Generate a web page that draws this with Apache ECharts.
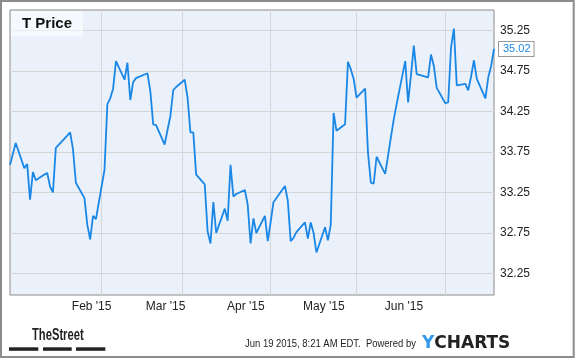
<!DOCTYPE html>
<html>
<head>
<meta charset="utf-8">
<script src="https://cdn.jsdelivr.net/npm/echarts@6/dist/echarts.min.js"></script>
<style>
html,body{margin:0;padding:0;background:#fff;}
#c{width:575px;height:358px;}
</style>
</head>
<body>
<div id="c"></div>
<script>
// ---- data ----
const dates = [
 '2014-12-31',
 '2015-01-02','2015-01-05','2015-01-06','2015-01-07','2015-01-08','2015-01-09',
 '2015-01-12','2015-01-13','2015-01-14','2015-01-15','2015-01-16',
 '2015-01-20','2015-01-21','2015-01-22','2015-01-23',
 '2015-01-26','2015-01-27','2015-01-28','2015-01-29','2015-01-30',
 '2015-02-02','2015-02-03','2015-02-04','2015-02-05','2015-02-06',
 '2015-02-09','2015-02-10','2015-02-11','2015-02-12','2015-02-13',
 '2015-02-17','2015-02-18','2015-02-19','2015-02-20',
 '2015-02-23','2015-02-24','2015-02-25','2015-02-26','2015-02-27',
 '2015-03-02','2015-03-03','2015-03-04','2015-03-05','2015-03-06',
 '2015-03-09','2015-03-10','2015-03-11','2015-03-12','2015-03-13',
 '2015-03-16','2015-03-17','2015-03-18','2015-03-19','2015-03-20',
 '2015-03-23','2015-03-24','2015-03-25','2015-03-26','2015-03-27',
 '2015-03-30','2015-03-31','2015-04-01','2015-04-02',
 '2015-04-06','2015-04-07','2015-04-08','2015-04-09','2015-04-10',
 '2015-04-13','2015-04-14','2015-04-15','2015-04-16','2015-04-17',
 '2015-04-20','2015-04-21','2015-04-22','2015-04-23','2015-04-24',
 '2015-04-27','2015-04-28','2015-04-29','2015-04-30','2015-05-01',
 '2015-05-04','2015-05-05','2015-05-06','2015-05-07','2015-05-08',
 '2015-05-11','2015-05-12','2015-05-13','2015-05-14','2015-05-15',
 '2015-05-18','2015-05-19','2015-05-20','2015-05-21','2015-05-22',
 '2015-05-26','2015-05-27','2015-05-28','2015-05-29',
 '2015-06-01','2015-06-02','2015-06-03','2015-06-04','2015-06-05',
 '2015-06-08','2015-06-09','2015-06-10','2015-06-11','2015-06-12',
 '2015-06-15','2015-06-16','2015-06-17','2015-06-18'
];
const prices = [
 33.59,
 33.86,33.55,33.60,33.16,33.50,33.40,
 33.47,33.49,33.32,33.25,33.80,
 33.95,33.99,33.78,33.37,
 33.18,32.85,32.67,32.96,32.92,
 33.53,34.34,34.41,34.53,34.87,
 34.64,34.85,34.39,34.61,34.66,
 34.72,34.50,34.09,34.08,
 33.84,34.02,34.19,34.51,34.55,
 34.64,34.42,33.99,33.99,33.47,
 33.35,32.77,32.62,33.13,32.75,
 33.05,32.90,33.59,33.20,33.23,
 33.28,33.10,32.62,32.93,32.75,
 32.96,32.65,32.88,33.13,
 33.33,33.15,32.65,32.69,32.76,
 32.88,32.68,32.88,32.75,32.51,
 32.82,32.66,32.85,34.23,34.01,
 34.09,34.86,34.77,34.65,34.42,
 34.53,33.74,33.37,33.36,33.69,
 33.48,33.70,33.93,34.15,34.34,
 34.87,34.36,34.69,35.06,34.71,
 34.67,34.95,34.81,34.54,
 34.35,34.36,35.04,35.27,34.57,
 34.59,34.51,34.68,34.88,34.65,
 34.41,34.67,34.81,35.02
];
const seriesName = 'T Price';
const xStart = '2014-12-31';
const xEnd = '2015-06-18';
const monthGridDates = ['2015-02-01','2015-03-01','2015-04-01','2015-05-01','2015-06-01'];
const monthLabelDates = ['2015-01-28T12','2015-02-23T08','2015-03-23T08','2015-04-19T14','2015-05-17T13'];
const monthLabels = ["Feb '15","Mar '15","Apr '15","May '15","Jun '15"];
const yTicks = [32.25,32.75,33.25,33.75,34.25,34.75,35.25];
const yMin = 31.985, yMax = 35.5;
const stampText = 'Jun 19 2015, 8:21 AM EDT.  Powered by';

function ts(s){
  const m = s.match(/(\d+)-(\d+)-(\d+)(?:T(\d+))?/);
  return new Date(+m[1], +m[2]-1, +m[3], m[4] ? +m[4] : 0).getTime();
}
const lineData = dates.map((d,i)=>[ts(d), prices[i]]);
const labelStamps = monthLabelDates.map(ts);

const chart = echarts.init(document.getElementById('c'), null, {renderer:'canvas'});
const FONT = 'Arial, "Liberation Sans", sans-serif';
chart.setOption({
  animation:false,
  backgroundColor:'#fff',
  title:{
    text:seriesName, left:11, top:11, padding:[5,11,5,11],
    backgroundColor:'rgba(255,255,255,0.55)',
    textStyle:{fontSize:15,fontWeight:'bold',fontFamily:FONT,color:'#111'}
  },
  grid:{left:10, top:10, width:484, height:285, show:true,
    backgroundColor:'#eaf1fb', borderColor:'#8a8a8a', borderWidth:1},
  xAxis:[{
    type:'value', position:'top', min:ts(xStart), max:ts(xEnd),
    axisLine:{show:false}, axisLabel:{show:false},
    axisTick:{show:false, customValues:monthGridDates.map(ts)},
    splitLine:{show:true, lineStyle:{color:'#d6d6d6', width:1}}
  },{
    type:'value', position:'bottom', min:ts(xStart), max:ts(xEnd),
    axisLine:{show:false}, axisTick:{show:false}, splitLine:{show:false},
    axisLabel:{show:true, customValues:labelStamps, margin:6,
      color:'#222', fontSize:12, fontFamily:FONT,
      formatter:(v)=>{ const i = labelStamps.indexOf(v); return i>=0 ? monthLabels[i] : ''; }}
  }],
  yAxis:{
    type:'value', position:'right', min:yMin, max:yMax,
    axisLine:{show:false},
    axisTick:{show:false, customValues:yTicks},
    axisLabel:{customValues:yTicks, margin:6, color:'#222', fontSize:12, fontFamily:FONT,
      formatter:(v)=>v.toFixed(2)},
    splitLine:{show:true, lineStyle:{color:'#d6d6d6', width:1}}
  },
  series:[{
    type:'line', name:seriesName, xAxisIndex:0, data:lineData,
    showSymbol:false, symbol:'none',
    lineStyle:{color:'#1a87e6', width:1.8},
    endLabel:{show:true, formatter:(p)=>p.value[1].toFixed(2), distance:5,
      color:'#1a87e6', fontSize:11, fontFamily:FONT, backgroundColor:'#fff',
      borderColor:'#999', borderWidth:1, padding:[2,3,1,4]}
  }],
  graphic:[
    {type:'rect', silent:true, shape:{x:1,y:1,width:572.7,height:356},
     style:{fill:null, stroke:'#8c8c8c', lineWidth:2}},
    {type:'text', x:32, y:336, scaleX:0.7, style:{text:'TheStreet', fill:'#222',
      font:'bold 16px Arial, "Liberation Sans", sans-serif', verticalAlign:'middle'}},
    {type:'rect', shape:{x:9,y:347.3,width:29.3,height:3.5}, style:{fill:'#222'}},
    {type:'rect', shape:{x:43,y:347.3,width:28.7,height:3.5}, style:{fill:'#222'}},
    {type:'rect', shape:{x:76,y:347.3,width:29.3,height:3.5}, style:{fill:'#222'}},
    {type:'text', x:245, y:344, scaleX:0.86, style:{text:stampText, fill:'#222',
      font:'11px Arial, "Liberation Sans", sans-serif', verticalAlign:'middle'}},
    {type:'text', x:422, y:344, style:{text:'{y|Y}{c|CHARTS}', verticalAlign:'middle',
      rich:{y:{fill:'#2f98ec', font:'bold 17px "DejaVu Sans", sans-serif'},
            c:{fill:'#222', font:'bold 17px "DejaVu Sans", sans-serif'}}}}
  ]
});
</script>
</body>
</html>
